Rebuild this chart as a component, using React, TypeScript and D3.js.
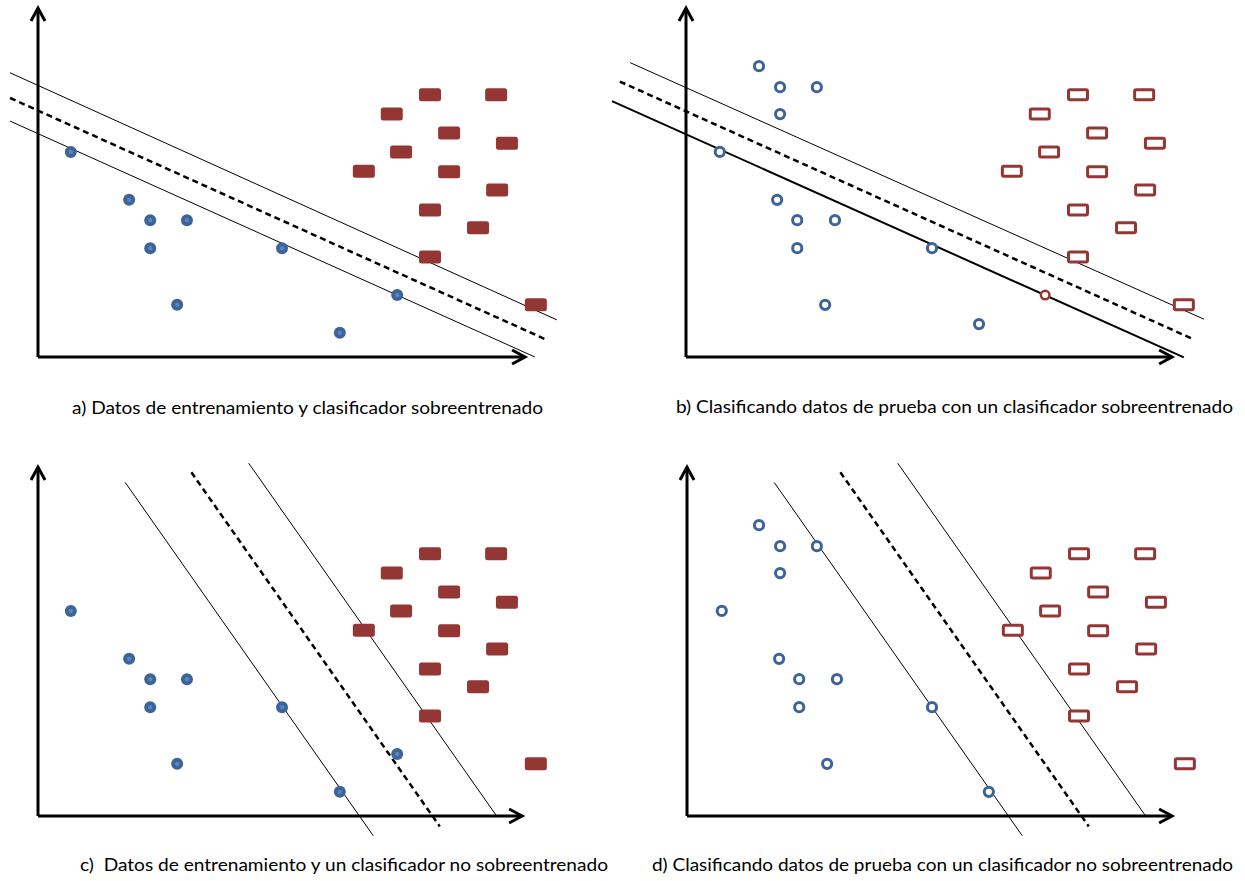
import React from "react";
import * as d3 from "d3";

// ---- data (abstract units: x 0..100 along horizontal axis, y 0..100 along vertical axis)
const trainBlueX = [6.7, 18.6, 22.9, 30.4, 22.9, 49.8, 28.4, 73.3, 61.6];
const trainBlueY = [58.6, 44.9, 39.1, 39.1, 31.1, 31.1, 14.9, 17.7, 6.9];

const redX = [80, 93.5, 72.2, 83.9, 95.7, 74.1, 66.5, 83.9, 93.7, 80, 89.8, 80, 101.6];
const redY = [74.9, 74.9, 69.4, 64, 61.1, 58.6, 53.1, 52.9, 47.7, 42, 36.9, 28.6, 14.9];

const testBlueBX = [14.9, 19.2, 26.7, 19.2, 6.9, 18.6, 22.7, 30.4, 22.7, 50.2, 28.4, 59.8];
const testBlueBY = [83.1, 77.1, 77.1, 69.4, 58.6, 44.9, 39.1, 39.1, 31.1, 31.1, 14.9, 9.4];
const misclassB = [{ x: 73.3, y: 17.7 }];

const testBlueDX = [14.7, 19.0, 26.5, 19.0, 7.1, 18.8, 22.9, 30.6, 22.9, 50.0, 28.6, 61.6];
const testBlueDY = [83.1, 77.1, 77.1, 69.4, 58.6, 44.9, 39.1, 39.1, 31.1, 31.1, 14.9, 6.9];

// separating lines: [x1, y1, x2, y2, style]
const linesA = [
  { x1: -5.7, y1: 81.2, x2: 105.9, y2: 10.6, kind: "thin" },
  { x1: -5.7, y1: 74.0, x2: 103.5, y2: 5.1, kind: "dash" },
  { x1: -5.7, y1: 67.4, x2: 101.4, y2: 0.0, kind: "thin" },
];
const linesB = [
  { x1: -11.4, y1: 84.1, x2: 105.7, y2: 10.8, kind: "thin" },
  { x1: -13.5, y1: 78.7, x2: 103.5, y2: 5.1, kind: "dash" },
  { x1: -15.1, y1: 73.1, x2: 101.6, y2: -0.1, kind: "thick" },
];
const linesCD = [
  { x1: 17.8, y1: 95.3, x2: 68.4, y2: -5.6, kind: "thin" },
  { x1: 31.3, y1: 98.2, x2: 82.0, y2: -3.0, kind: "dash" },
  { x1: 43.0, y1: 100.8, x2: 93.5, y2: 0.2, kind: "thin" },
];

const captions = [
  "a) Datos de entrenamiento y clasificador sobreentrenado",
  "b) Clasificando datos de prueba con un clasificador sobreentrenado",
  "c)  Datos de entrenamiento y un clasificador no sobreentrenado",
  "d) Clasificando datos de prueba con un clasificador no sobreentrenado",
];

const BLUE = "#3C6498";
const BLUE_LIGHT = "#5A84BC";
const RED = "#943634";

type Panel = {
  ox: number;
  oy: number;
  xEnd: number;
  blueX: number[];
  blueY: number[];
  ring: boolean;
  redOpen: boolean;
  lines: { x1: number; y1: number; x2: number; y2: number; kind: string }[];
  mis: { x: number; y: number }[];
  caption: string;
  capX: number;
  capW: number;
  capY: number;
};

const panels: Panel[] = [
  { ox: 38, oy: 357, xEnd: 99.4, blueX: trainBlueX, blueY: trainBlueY, ring: false, redOpen: false, lines: linesA, mis: [], caption: captions[0], capX: 72, capW: 471, capY: 414 },
  { ox: 686, oy: 357, xEnd: 99.2, blueX: testBlueBX, blueY: testBlueBY, ring: true, redOpen: true, lines: linesB, mis: misclassB, caption: captions[1], capX: 676, capW: 557, capY: 413 },
  { ox: 38, oy: 816, xEnd: 98.8, blueX: trainBlueX, blueY: trainBlueY, ring: false, redOpen: false, lines: linesCD, mis: [], caption: captions[2], capX: 80, capW: 528, capY: 871 },
  { ox: 687, oy: 816, xEnd: 99.0, blueX: testBlueDX, blueY: testBlueDY, ring: true, redOpen: true, lines: linesCD, mis: [], caption: captions[3], capX: 652, capW: 581, capY: 871 },
];

function PanelView({ p }: { p: Panel }) {
  const x = d3.scaleLinear().domain([0, 100]).range([p.ox, p.ox + 490]);
  const y = d3.scaleLinear().domain([0, 100]).range([p.oy, p.oy - 350]);
  const line = d3.line<[number, number]>().x((d) => x(d[0])).y((d) => y(d[1]));
  const yTop = y(99.7);
  const xRight = x(p.xEnd);
  return (
    <g>
      {/* lines */}
      {p.lines.map((l, i) => (
        <path
          key={"l" + i}
          d={line([[l.x1, l.y1], [l.x2, l.y2]]) || ""}
          fill="none"
          stroke="#000"
          strokeWidth={l.kind === "dash" ? 2.5 : l.kind === "thick" ? 2 : 1}
          strokeDasharray={l.kind === "dash" ? "6 4" : undefined}
        />
      ))}
      {/* axes */}
      <path d={`M${x(0)},${y(0)}V${yTop}`} stroke="#000" strokeWidth={3} fill="none" />
      <path d={`M${x(0)},${y(0)}H${xRight}`} stroke="#000" strokeWidth={3} fill="none" />
      <path d={`M${x(0) - 7},${yTop + 13}L${x(0)},${yTop}L${x(0) + 7},${yTop + 13}`} stroke="#000" strokeWidth={3} fill="none" />
      <path d={`M${xRight - 13},${y(0) - 7}L${xRight},${y(0)}L${xRight - 13},${y(0) + 7}`} stroke="#000" strokeWidth={3} fill="none" />
      {/* red */}
      {redX.map((rx, i) =>
        p.redOpen ? (
          <rect key={"r" + i} x={x(rx) - 9.5} y={y(redY[i]) - 5} width={19} height={10} rx={1.5} fill="#fff" stroke={RED} strokeWidth={3} />
        ) : (
          <rect key={"r" + i} x={x(rx) - 11} y={y(redY[i]) - 6.5} width={22} height={13} rx={2.5} fill={RED} />
        )
      )}
      {/* blue */}
      {p.blueX.map((bx, i) =>
        p.ring ? (
          <circle key={"b" + i} cx={x(bx)} cy={y(p.blueY[i])} r={4.6} fill="#fff" stroke={BLUE} strokeWidth={3} />
        ) : (
          <g key={"b" + i}>
            <circle cx={x(bx)} cy={y(p.blueY[i])} r={6} fill={BLUE} />
            <circle cx={x(bx)} cy={y(p.blueY[i])} r={2.2} fill={BLUE_LIGHT} />
          </g>
        )
      )}
      {p.mis.map((m, i) => (
        <circle key={"m" + i} cx={x(m.x)} cy={y(m.y)} r={4.3} fill="#fff" stroke={RED} strokeWidth={2.5} />
      ))}
      <text
        x={p.capX}
        y={p.capY}
        fontFamily="Lato, 'Open Sans', sans-serif"
        fontSize={17}
        fill="#000"
        textLength={p.capW}
        lengthAdjust="spacingAndGlyphs"
        style={{ whiteSpace: "pre" }}
      >
        {p.caption}
      </text>
    </g>
  );
}

export default function App() {
  return (
    <svg
      width={1245}
      height={881}
      style={{ position: "absolute", left: 0, top: 0, background: "#fff" }}
    >
      <rect width={1245} height={881} fill="#fff" />
      {panels.map((p, i) => (
        <PanelView key={i} p={p} />
      ))}
    </svg>
  );
}
